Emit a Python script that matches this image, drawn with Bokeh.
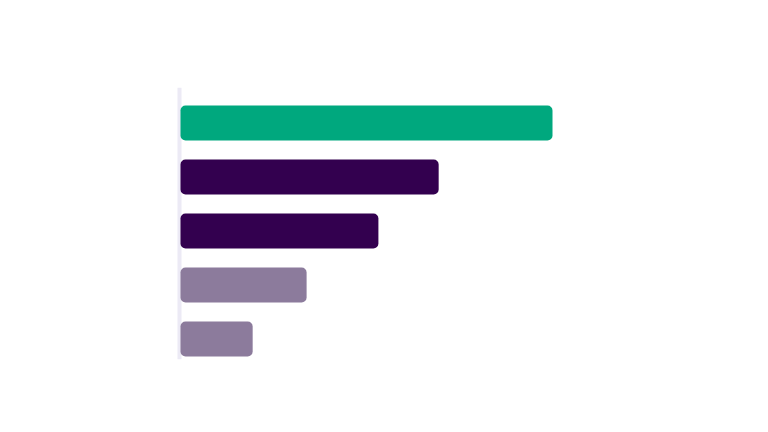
from bokeh.plotting import figure
from bokeh.models import Range1d, ColumnDataSource
from bokeh.embed import file_html
from bokeh.resources import INLINE

# data (top to bottom)
categories = ["A", "B", "C", "D", "E"]
values = [100, 69.4, 53.2, 33.9, 19.4]
bar_colors = ["#00A87E", "#33004F", "#33004F", "#8C7B9C", "#8C7B9C"]

n = len(categories)
ypos = [n - 1 - i for i in range(n)]

px_per_unit = 3.72
x_start = -8 / px_per_unit
frame_w = 572
x_end = x_start + frame_w / px_per_unit
y_start, y_end = -0.38, n - 1 + 0.657

p = figure(width=752, height=416, output_backend="svg", toolbar_location=None,
           x_range=Range1d(x_start, x_end), y_range=Range1d(y_start, y_end),
           min_border_left=172, min_border_right=8, min_border_top=87, min_border_bottom=57)
p.xaxis.visible = False
p.yaxis.visible = False
p.grid.visible = False
p.outline_line_color = None
p.background_fill_color = "white"
p.border_fill_color = "white"

line_x = -1 / px_per_unit
p.segment(x0=[line_x], y0=[y_start], x1=[line_x], y1=[y_end],
          line_color="#ECEAF5", line_width=4)

src = ColumnDataSource(dict(y=ypos, right=values, color=bar_colors, cat=categories))
p.hbar(y="y", left=0, right="right", height=0.648, source=src,
       fill_color="color", line_color=None, border_radius=5)

open("out.html", "w").write(file_html(p, INLINE))
